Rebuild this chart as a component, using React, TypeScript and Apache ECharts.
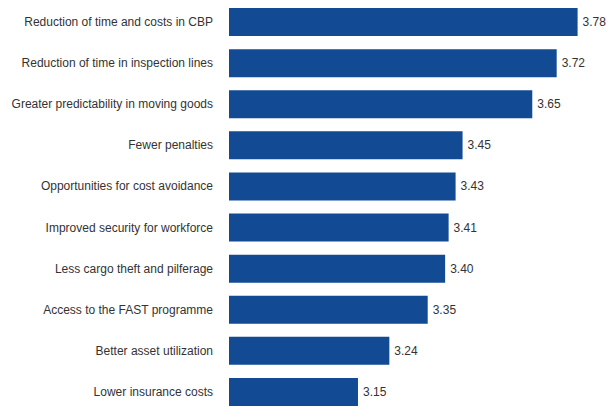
import React, { useEffect, useRef } from "react";
import * as echarts from "echarts";

const categories = [
  "Reduction of time and costs in CBP",
  "Reduction of time in inspection lines",
  "Greater predictability in moving goods",
  "Fewer penalties",
  "Opportunities for cost avoidance",
  "Improved security for workforce",
  "Less cargo theft and pilferage",
  "Access to the FAST programme",
  "Better asset utilization",
  "Lower insurance costs",
];
const values = [3.78, 3.72, 3.65, 3.45, 3.43, 3.41, 3.4, 3.35, 3.24, 3.15];

export default function App() {
  const ref = useRef<HTMLDivElement>(null);
  useEffect(() => {
    if (!ref.current) return;
    const chart = echarts.init(ref.current, null, { renderer: "svg" });
    chart.setOption({
      animation: false,
      grid: {
        left: 229,
        right: 11,
        top: 1.5,
        height: 411,
        containLabel: false,
        outerBoundsMode: "none",
      },
      xAxis: {
        type: "value",
        min: 2.78,
        max: 3.85,
        show: false,
      },
      yAxis: {
        type: "category",
        data: categories,
        inverse: true,
        axisLine: { show: false },
        axisTick: { show: false },
        axisLabel: {
          margin: 16,
          fontSize: 12,
          color: "#333333",
          fontFamily: "Liberation Sans, Arial, sans-serif",
          padding: [8, 0, 0, 0],
        },
      },
      series: [
        {
          type: "bar",
          data: values,
          barWidth: 28,
          itemStyle: { color: "#124a94" },
          label: {
            show: true,
            position: "right",
            distance: 5,
            fontSize: 12,
            color: "#333333",
            fontFamily: "Liberation Sans, Arial, sans-serif",
            padding: [4, 0, 0, 0],
            formatter: (p: any) => p.value.toFixed(2),
          },
        },
      ],
    });
    return () => chart.dispose();
  }, []);
  return <div ref={ref} style={{ width: 613, height: 406, position: "absolute", left: 0, top: 0 }} />;
}
